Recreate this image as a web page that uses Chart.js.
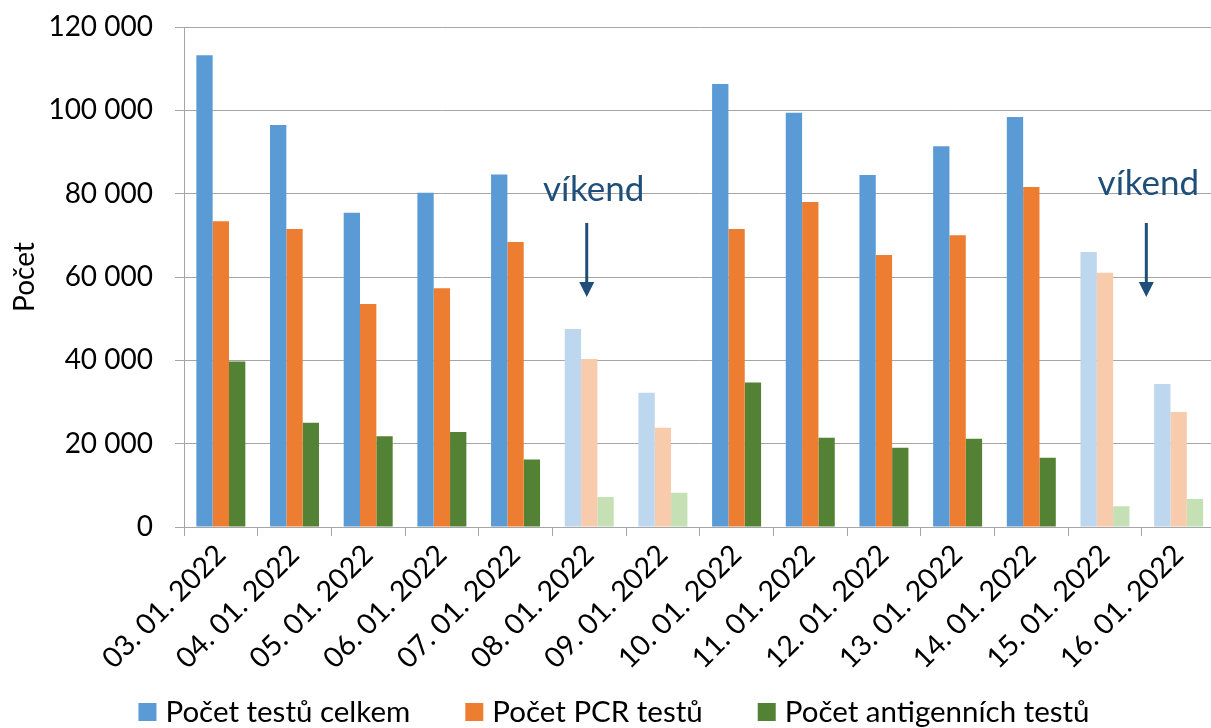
<!DOCTYPE html>
<html>
<head>
<meta charset="utf-8">
<script src="https://cdn.jsdelivr.net/npm/chart.js@4.4.1/dist/chart.umd.min.js"></script>
<style>
html,body{margin:0;padding:0;overflow:hidden;background:#fff;width:1211px;height:728px}
canvas{display:block}
</style>
</head>
<body>
<canvas id="c" width="1222" height="728"></canvas>
<script>
// ---- data ----
const categories = ['03. 01. 2022','04. 01. 2022','05. 01. 2022','06. 01. 2022','07. 01. 2022','08. 01. 2022','09. 01. 2022',
                    '10. 01. 2022','11. 01. 2022','12. 01. 2022','13. 01. 2022','14. 01. 2022','15. 01. 2022','16. 01. 2022'];
const totalTests   = [113200, 96500, 75400, 80200, 84600, 47500, 32200, 106300, 99400, 84500, 91400, 98400, 66000, 34300];
const pcrTests     = [ 73400, 71500, 53500, 57300, 68400, 40300, 23800,  71500, 78000, 65300, 70000, 81600, 61000, 27600];
const antigenTests = [ 39700, 25000, 21800, 22800, 16200,  7200,  8200,  34700, 21400, 19000, 21200, 16600,  5000,  6700];
const yTickValues  = [0, 20000, 40000, 60000, 80000, 100000, 120000];
const seriesNames  = ['Počet testů celkem', 'Počet PCR testů', 'Počet antigenních testů'];
const axisTitle    = 'Počet';
const noteText     = 'víkend';

// ---- styles ----
const FONT = 'Lato';
const colors = [
  {dark:'#5B9BD5', light:'#BDD7EE'},
  {dark:'#ED7D31', light:'#F8CBAD'},
  {dark:'#548235', light:'#C5E0B4'}
];
const gridColor = '#a6a6a6';
const noteColor = '#1F4E79';

function isWeekend(label){
  const p = label.split('.').map(s => parseInt(s, 10));
  const wd = new Date(p[2], p[1]-1, p[0]).getDay();
  return wd === 0 || wd === 6;
}
function fmt(v){ return String(v).replace(/\B(?=(\d{3})+(?!\d))/g, ' '); }

const seriesValues = [totalTests, pcrTests, antigenTests];
const datasets = seriesValues.map((vals, i) => ({
  label: seriesNames[i],
  data: vals,
  backgroundColor: ctx => isWeekend(categories[ctx.dataIndex]) ? colors[i].light : colors[i].dark,
  borderWidth: 0,
  categoryPercentage: 0.665,
  barPercentage: 1.0
}));

const overlayPlugin = {
  id: 'overlay',
  afterDraw(chart){
    const ctx = chart.ctx;
    const xs = chart.scales.x;
    const top = chart.chartArea.top;
    const notes = [
      {textX: xs.getPixelForValue(5) + 4.5, baseY: top + 174, arrowX: xs.getPixelForValue(5) - 2.5},
      {textX: xs.getPixelForValue(12.5) + 6.5, baseY: top + 168, arrowX: xs.getPixelForValue(12.5) + 4.5}
    ];
    ctx.save();
    notes.forEach(n => {
      ctx.fillStyle = noteColor;
      ctx.font = '35px ' + FONT;
      ctx.textAlign = 'center';
      ctx.textBaseline = 'alphabetic';
      ctx.fillText(noteText, n.textX, n.baseY);
      const y1 = top + 196, y2 = top + 270;
      ctx.strokeStyle = noteColor;
      ctx.lineWidth = 3;
      ctx.beginPath();
      ctx.moveTo(n.arrowX, y1);
      ctx.lineTo(n.arrowX, y2 - 12);
      ctx.stroke();
      ctx.beginPath();
      ctx.moveTo(n.arrowX - 7.5, y2 - 15);
      ctx.lineTo(n.arrowX + 7.5, y2 - 15);
      ctx.lineTo(n.arrowX, y2);
      ctx.closePath();
      ctx.fill();
    });
    // legend
    ctx.font = '29.5px ' + FONT;
    ctx.textBaseline = 'middle';
    ctx.textAlign = 'left';
    const box = 18, gapText = 9, gapItem = 55;
    const widths = seriesNames.map(s => ctx.measureText(s).width);
    const total = widths.reduce((a,b)=>a+b,0) + seriesNames.length*(box+gapText) + gapItem*(seriesNames.length-1);
    let x = 614 - total/2;
    const cy = 712;
    seriesNames.forEach((s, i) => {
      ctx.fillStyle = colors[i].dark;
      ctx.fillRect(x, cy - box/2, box, box);
      x += box + gapText;
      ctx.fillStyle = '#000';
      ctx.fillText(s, x, cy);
      x += widths[i] + gapItem;
    });
    ctx.restore();
  }
};

Chart.defaults.font.family = FONT;
Chart.defaults.color = '#000';

new Chart(document.getElementById('c'), {
  type: 'bar',
  data: { labels: categories, datasets },
  options: {
    responsive: false,
    animation: false,
    devicePixelRatio: 1,
    layout: { padding: { top: 27, right: 6.5, bottom: 51, left: 0 } },
    plugins: { legend: { display: false }, tooltip: { enabled: false } },
    scales: {
      x: {
        grid: { offset: true, drawOnChartArea: false, drawTicks: true, tickLength: 9, color: gridColor },
        border: { color: gridColor },
        ticks: { maxRotation: 45, minRotation: 45, autoSkip: false, padding: 2, font: { size: 28.5 }, color: '#000' },
        afterFit: s => { s.height = 150; }
      },
      y: {
        min: 0, max: 120000,
        afterBuildTicks: s => { s.ticks = yTickValues.map(v => ({ value: v })); },
        grid: { color: gridColor, tickLength: 9, drawTicks: true },
        border: { color: gridColor },
        ticks: { padding: 22, font: { size: 28 }, color: '#000', callback: v => fmt(v) },
        title: { display: true, text: axisTitle, font: { size: 28 }, color: '#000', padding: { top: 8, bottom: 0 } },
        afterFit: s => { s.width = 184; s.paddingTop = 0; s.paddingBottom = 0; }
      }
    }
  },
  plugins: [overlayPlugin]
});
</script>
</body>
</html>
